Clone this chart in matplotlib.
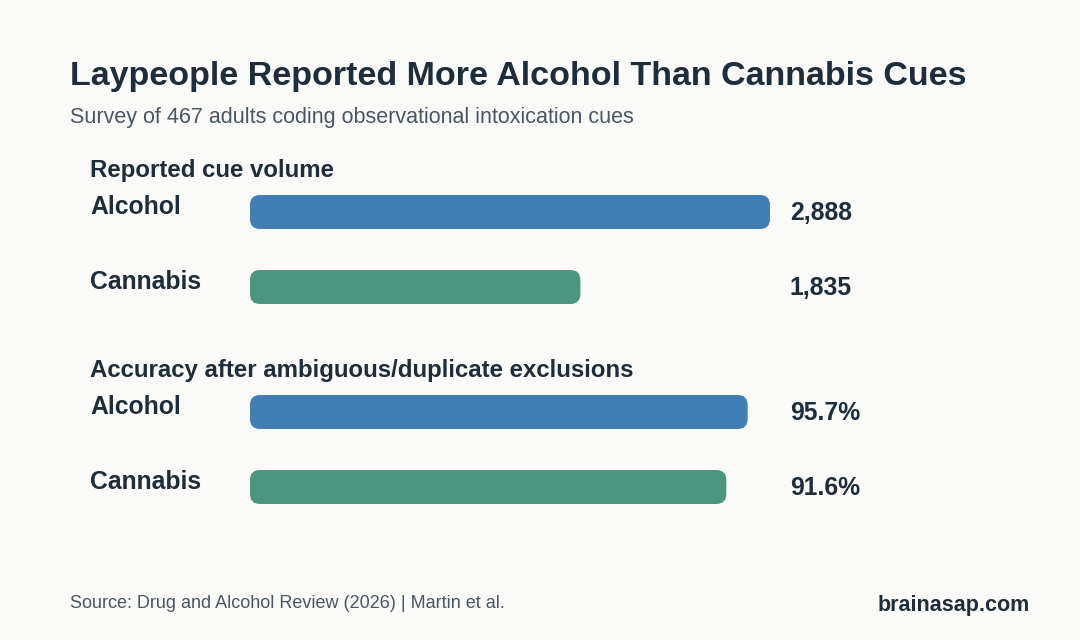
import matplotlib
matplotlib.use("Agg")
import matplotlib.pyplot as plt
from matplotlib.patches import FancyBboxPatch

plt.rcParams["font.family"] = ["Liberation Sans", "DejaVu Sans"]

categories = ["Alcohol", "Cannabis"]
volume = [2888, 1835]
volume_labels = ["2,888", "1,835"]
accuracy = [95.7, 91.6]
accuracy_labels = ["95.7%", "91.6%"]

BG = "#fafaf8"
DARK = "#1f2d3a"
GREY = "#4a5663"
COLORS = ["#417eb4", "#4c9680"]

W, H = 1080, 640


def px(x, y):
    # pixel position (from top-left) -> figure fraction
    return x / W, 1 - y / H


def panel(fig, top_px, values, labels, vmax):
    # axes spans bar area: left 250px, width 520px, 150px tall (2 rows)
    left, bottom = px(250, top_px + 150)
    ax = fig.add_axes([left, bottom, 520 / W, 150 / H])
    ax.set_xlim(0, vmax)
    ax.set_ylim(1.5, -0.5)
    ax.axis("off")

    bar_h = 34 / 75
    bars = ax.barh(range(len(values)), values, height=bar_h, color=COLORS)

    # rounded corners, radius ~10 px
    x_per_px = vmax / 520
    y_per_px = 2 / 150
    for b, c in zip(bars, COLORS):
        b.set_visible(False)
        r = 10 * x_per_px
        patch = FancyBboxPatch((b.get_x(), b.get_y()), b.get_width(), b.get_height(),
                               boxstyle=f"round,pad=0,rounding_size={r}",
                               mutation_aspect=y_per_px / x_per_px,
                               facecolor=c, edgecolor="none")
        ax.add_patch(patch)

    tr = ax.get_yaxis_transform()
    for i, (cat, lab) in enumerate(zip(categories, labels)):
        ax.text(-160 / 520, i - 0.065, cat, transform=tr, ha="left", va="center",
                fontsize=17.8, fontweight="bold", color=DARK, clip_on=False)
        ax.text(540 / 520, i + 0.015, lab, transform=tr, ha="left", va="center",
                fontsize=17.8, fontweight="bold", color=DARK, clip_on=False)
    return ax


fig = plt.figure(figsize=(10.8, 6.4), dpi=100, facecolor=BG)

fig.text(*px(70, 76), "Laypeople Reported More Alcohol Than Cannabis Cues",
         fontsize=24.5, fontweight="bold", color=DARK, va="center")
fig.text(*px(70, 118), "Survey of 467 adults coding observational intoxication cues",
         fontsize=15.5, color=GREY, va="center")

fig.text(*px(90, 171), "Reported cue volume", fontsize=17.3, fontweight="bold",
         color=DARK, va="center")
panel(fig, 212 - 37.5, volume, volume_labels, max(volume))

fig.text(*px(90, 371), "Accuracy after ambiguous/duplicate exclusions", fontsize=17.3,
         fontweight="bold", color=DARK, va="center")
panel(fig, 412 - 37.5, accuracy, accuracy_labels, 100)

fig.text(*px(70, 603), "Source: Drug and Alcohol Review (2026) | Martin et al.",
         fontsize=13, color=GREY, va="center")
fig.text(*px(1030, 605), "brainasap.com", fontsize=15.5, fontweight="bold",
         color=DARK, va="center", ha="right")

fig.savefig("out.png", dpi=100, facecolor=BG)
